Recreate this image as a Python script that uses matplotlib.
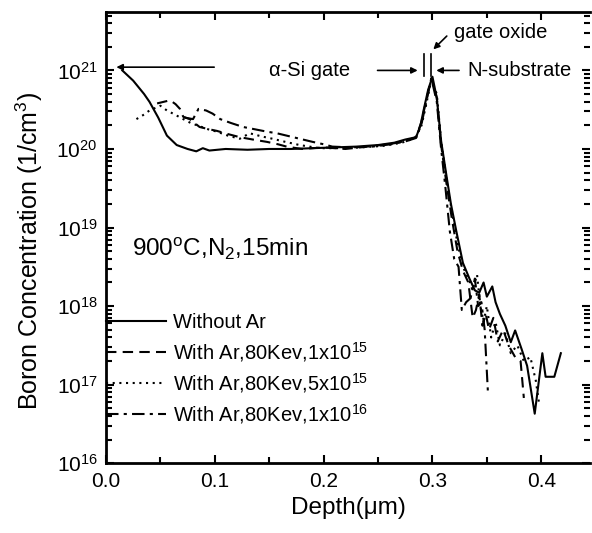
import numpy as np
import matplotlib.pyplot as plt
from matplotlib.ticker import LogLocator, MultipleLocator, NullFormatter

plt.rcParams['font.family'] = ['Liberation Sans', 'DejaVu Sans']
plt.rcParams['mathtext.default'] = 'regular'

# depth (um) and log10(concentration)
x_none = [0.015, 0.025, 0.035, 0.040, 0.048, 0.056, 0.065, 0.075, 0.083, 0.089, 0.095, 0.110, 0.130,
          0.150, 0.170, 0.190, 0.210, 0.230, 0.250, 0.265, 0.275, 0.285, 0.289, 0.292, 0.296, 0.300,
          0.304, 0.308, 0.313, 0.317, 0.322, 0.328, 0.334, 0.339, 0.343, 0.347, 0.350, 0.355, 0.358,
          0.362, 0.367, 0.372, 0.376, 0.382, 0.387, 0.394, 0.401, 0.404, 0.412, 0.418]
y_none = [21.0, 20.87, 20.7, 20.6, 20.4, 20.17, 20.05, 20.0, 19.97, 20.01, 19.98, 20.0, 19.99,
          20.0, 20.0, 20.01, 20.02, 20.03, 20.05, 20.08, 20.12, 20.15, 20.3, 20.5, 20.75, 20.92,
          20.65, 20.1, 19.65, 19.3, 18.95, 18.55, 18.35, 18.2, 18.17, 18.3, 18.12, 18.25, 18.05,
          17.9, 17.75, 17.54, 17.69, 17.45, 17.24, 16.63, 17.4, 17.1, 17.1, 17.4]

x_1e15 = [0.047, 0.053, 0.059, 0.064, 0.068, 0.071, 0.077, 0.086, 0.095, 0.102, 0.112, 0.123, 0.135,
          0.148, 0.158, 0.166, 0.180, 0.200, 0.220, 0.240, 0.260, 0.275, 0.285, 0.290, 0.294, 0.299,
          0.304, 0.308, 0.313, 0.318, 0.323, 0.328, 0.333, 0.337, 0.340, 0.343, 0.346, 0.349, 0.352,
          0.356, 0.360, 0.365, 0.370, 0.376, 0.381, 0.384]
y_1e15 = [20.58, 20.6, 20.62, 20.57, 20.51, 20.41, 20.38, 20.28, 20.25, 20.23, 20.19, 20.15, 20.12,
          20.09, 20.06, 20.03, 20.0, 20.02, 20.0, 20.03, 20.06, 20.1, 20.15, 20.35, 20.6, 20.9,
          20.65, 20.05, 19.55, 19.1, 18.7, 18.45, 18.3, 17.85, 17.95, 18.15, 17.75, 17.9, 17.7,
          17.85, 17.55, 17.7, 17.5, 17.35, 17.3, 16.83]

x_5e15 = [0.028, 0.034, 0.040, 0.045, 0.050, 0.056, 0.063, 0.071, 0.078, 0.086, 0.094, 0.102, 0.112,
          0.123, 0.132, 0.143, 0.153, 0.165, 0.178, 0.196, 0.215, 0.235, 0.255, 0.272, 0.284, 0.290,
          0.294, 0.299, 0.304, 0.308, 0.313, 0.318, 0.323, 0.328, 0.333, 0.337, 0.341, 0.344, 0.347,
          0.350, 0.354, 0.358, 0.362, 0.367, 0.372, 0.378, 0.384, 0.390, 0.395, 0.398]
y_5e15 = [20.38, 20.43, 20.49, 20.52, 20.55, 20.49, 20.44, 20.38, 20.33, 20.29, 20.25, 20.22, 20.17,
          20.13, 20.2, 20.16, 20.13, 20.09, 20.05, 20.01, 20.01, 20.02, 20.04, 20.08, 20.14, 20.3,
          20.55, 20.88, 20.7, 20.1, 19.6, 19.2, 18.8, 18.5, 18.35, 18.2, 18.4, 18.0, 17.8,
          18.0, 17.6, 17.8, 17.5, 17.65, 17.4, 17.5, 17.3, 17.35, 17.05, 16.76]

x_1e16 = [0.072, 0.080, 0.085, 0.092, 0.098, 0.105, 0.115, 0.126, 0.137, 0.148, 0.157, 0.166, 0.178,
          0.190, 0.200, 0.208, 0.225, 0.245, 0.262, 0.276, 0.285, 0.290, 0.294, 0.299, 0.304, 0.308,
          0.312, 0.316, 0.320, 0.324, 0.327, 0.331, 0.335, 0.339, 0.342, 0.345, 0.348, 0.351]
y_1e16 = [20.4, 20.38, 20.51, 20.49, 20.45, 20.38, 20.33, 20.28, 20.25, 20.22, 20.2, 20.17, 20.13,
          20.09, 20.06, 20.03, 20.02, 20.03, 20.06, 20.1, 20.14, 20.32, 20.58, 20.9, 20.6, 20.0,
          19.5, 18.95, 18.6, 18.5, 17.95, 18.05, 18.1, 18.35, 18.0, 18.05, 17.7, 16.9]

labels = ['Without Ar', 'With Ar,80Kev,1x10$^{15}$', 'With Ar,80Kev,5x10$^{15}$',
          'With Ar,80Kev,1x10$^{16}$']

fig = plt.figure(figsize=(5.92, 5.33), dpi=100)
ax = fig.add_axes([0.179, 0.131, 0.818, 0.846])

lw = 1.5
ax.plot(x_none, 10 ** np.array(y_none), color='black', lw=lw, ls='-', label=labels[0])
ax.plot(x_1e15, 10 ** np.array(y_1e15), color='black', lw=lw, ls=(0, (5, 3)), label=labels[1])
ax.plot(x_5e15, 10 ** np.array(y_5e15), color='black', lw=lw, ls=(0, (1, 2.2)), label=labels[2])
ax.plot(x_1e16, 10 ** np.array(y_1e16), color='black', lw=lw, ls=(0, (6, 2.5, 1.5, 2.5)), label=labels[3])

ax.set_yscale('log')
ax.set_xlim(0, 0.445)
ax.set_ylim(1e16, 5.5e21)
ax.xaxis.set_minor_locator(MultipleLocator(0.05))
ax.set_xticks([0, 0.1, 0.2, 0.3, 0.4])
ax.set_xticklabels(['0.0', '0.1', '0.2', '0.3', '0.4'])
ax.yaxis.set_major_locator(LogLocator(base=10, numticks=20))
ax.yaxis.set_minor_locator(LogLocator(base=10, subs=np.arange(2, 10), numticks=60))
ax.yaxis.set_minor_formatter(NullFormatter())

ax.tick_params(which='both', direction='in', top=True, right=True, labelsize=15, width=1.5)
ax.tick_params(which='major', length=6, pad=6)
ax.tick_params(which='minor', length=4)
for s in ['left', 'bottom', 'top']:
    ax.spines[s].set_linewidth(2)
ax.spines['right'].set_visible(False)

ax.set_xlabel('Depth(μm)', fontsize=17.5, labelpad=5)
ax.set_ylabel('Boron Concentration (1/cm$^3$)', fontsize=18, labelpad=2)
ax.yaxis.set_label_coords(-0.125, 0.47)

# annotations on top
arr = dict(arrowstyle='-|>', color='black', lw=1.2, mutation_scale=9)
ax.annotate('', xy=(0.007, 1.1e21), xytext=(0.102, 1.1e21), arrowprops=arr)
ax.text(0.187, 1.0e21, 'α-Si gate', fontsize=14.5, ha='center', va='center')
ax.annotate('', xy=(0.289, 1.0e21), xytext=(0.247, 1.0e21), arrowprops=arr)
ax.annotate('', xy=(0.301, 1.0e21), xytext=(0.327, 1.0e21), arrowprops=arr)
ax.text(0.38, 1.0e21, 'N-substrate', fontsize=14.5, ha='center', va='center')
ax.plot([0.2925, 0.2925], [8.5e20, 1.6e21], color='black', lw=1.2)
ax.plot([0.2985, 0.2985], [8.5e20, 1.6e21], color='black', lw=1.2)
ax.annotate('', xy=(0.299, 1.75e21), xytext=(0.315, 2.9e21), arrowprops=arr)
ax.text(0.363, 3.0e21, 'gate oxide', fontsize=14.5, ha='center', va='center')

ax.text(0.024, 5.3e18, '900$^{o}$C,N$_2$,15min', fontsize=17.5, ha='left', va='center')

ax.legend(loc='upper left', bbox_to_anchor=(0.0, 0.332), frameon=False, fontsize=14.5,
          handlelength=3.0, handletextpad=0.35, labelspacing=0.36, borderpad=0, borderaxespad=0)

plt.savefig('out.png', dpi=100)
